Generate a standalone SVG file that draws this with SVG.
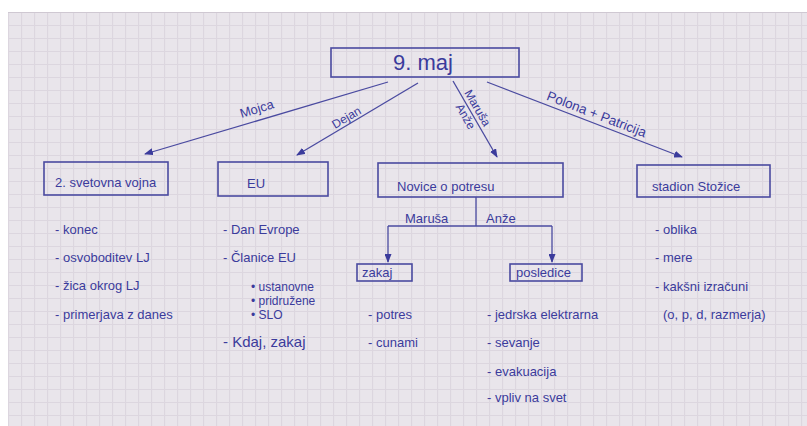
<svg xmlns="http://www.w3.org/2000/svg" width="807" height="426" viewBox="0 0 807 426">
<style>
.box{fill:none;stroke:#4a4aa0;stroke-width:1.6}
.ln{fill:none;stroke:#4a4aa0;stroke-width:1.3}
text{font-family:"Liberation Sans","DejaVu Sans",sans-serif;fill:#3b3b9c}
.t{font-size:13px}
.s{font-size:12px}
</style>
<defs>
<pattern id="grid" width="13" height="13" patternUnits="userSpaceOnUse" x="8" y="12">
<rect width="13" height="13" fill="#e9e5eb"/>
<path d="M0,0.5H13M0.5,0V13" stroke="#dcd6df" stroke-width="1.2"/>
</pattern>
<marker id="ah" markerWidth="9" markerHeight="7" refX="8" refY="3.5" orient="auto" markerUnits="userSpaceOnUse">
<path d="M0,0 L9,3.5 L0,7 z" fill="#3b3b9c"/>
</marker>
</defs>
<rect width="807" height="426" fill="#ffffff"/>
<rect x="8" y="12" width="799" height="414" fill="url(#grid)"/>
<line x1="8" y1="12.5" x2="807" y2="12.5" stroke="#cfc8d2" stroke-width="1"/>

<g id="connectors">
<line class="ln" x1="388" y1="82" x2="145" y2="154" marker-end="url(#ah)"/>
<line class="ln" x1="418" y1="83" x2="297" y2="155" marker-end="url(#ah)"/>
<line class="ln" x1="453" y1="81" x2="497" y2="157" marker-end="url(#ah)"/>
<line class="ln" x1="487" y1="82" x2="682" y2="157" marker-end="url(#ah)"/>
<text class="t" transform="translate(258,113) rotate(-17)" text-anchor="middle">Mojca</text>
<text class="s" transform="translate(348.5,121) rotate(-30.8)" text-anchor="middle">Dejan</text>
<text class="s" transform="translate(474,110) rotate(60)" text-anchor="middle">Maruša</text>
<text class="s" transform="translate(462,118.5) rotate(60)" text-anchor="middle">Anže</text>
<text class="t" transform="translate(595,118.5) rotate(21)" text-anchor="middle" style="font-size:13.5px">Polona + Patricija</text>
<polyline class="ln" points="476,197 476,226"/>
<line class="ln" x1="388" y1="226" x2="552" y2="226"/>
<line class="ln" x1="388" y1="226" x2="388" y2="262" marker-end="url(#ah)"/>
<line class="ln" x1="552" y1="226" x2="552" y2="262" marker-end="url(#ah)"/>
<text class="t" x="405" y="223">Maruša</text>
<text class="t" x="486" y="223">Anže</text>
</g>

<g id="root">
<rect class="box" x="331" y="48" width="188" height="29"/>
<text x="423" y="70" text-anchor="middle" style="font-size:22px">9. maj</text>
</g>

<g id="svetovna-vojna">
<rect class="box" x="44" y="162" width="124" height="33"/>
<text class="t" x="55" y="187">2. svetovna vojna</text>
<text class="t" x="55" y="234">- konec</text>
<text class="t" x="55" y="262">- osvoboditev LJ</text>
<text class="t" x="55" y="290">- žica okrog LJ</text>
<text class="t" x="55" y="319">- primerjava z danes</text>
</g>

<g id="eu">
<rect class="box" x="218" y="162" width="110" height="34"/>
<text class="t" x="247" y="188">EU</text>
<text class="t" x="223" y="234">- Dan Evrope</text>
<text class="t" x="223" y="262">- Članice EU</text>
<text class="s" x="251" y="291">• ustanovne</text>
<text class="s" x="251" y="305">• pridružene</text>
<text class="s" x="251" y="319">• SLO</text>
<text x="223" y="347" style="font-size:15px">- Kdaj, zakaj</text>
</g>

<g id="novice">
<rect class="box" x="378" y="163" width="185" height="34"/>
<text class="t" x="397" y="191">Novice o potresu</text>
</g>

<g id="zakaj">
<rect class="box" x="357" y="264" width="55" height="17"/>
<text class="t" x="362" y="277">zakaj</text>
<text class="t" x="368" y="319">- potres</text>
<text class="t" x="368" y="347">- cunami</text>
</g>

<g id="posledice">
<rect class="box" x="510" y="264" width="72" height="17"/>
<text class="t" x="516" y="277">posledice</text>
<text class="t" x="487" y="319">- jedrska elektrarna</text>
<text class="t" x="487" y="347">- sevanje</text>
<text class="t" x="487" y="376">- evakuacija</text>
<text class="t" x="487" y="402">- vpliv na svet</text>
</g>

<g id="stadion">
<rect class="box" x="637" y="165" width="133" height="32"/>
<text class="t" x="652" y="191">stadion Stožice</text>
<text class="t" x="655" y="234">- oblika</text>
<text class="t" x="655" y="262">- mere</text>
<text class="t" x="655" y="291">- kakšni izračuni</text>
<text class="t" x="663" y="319">(o, p, d, razmerja)</text>
</g>
</svg>
